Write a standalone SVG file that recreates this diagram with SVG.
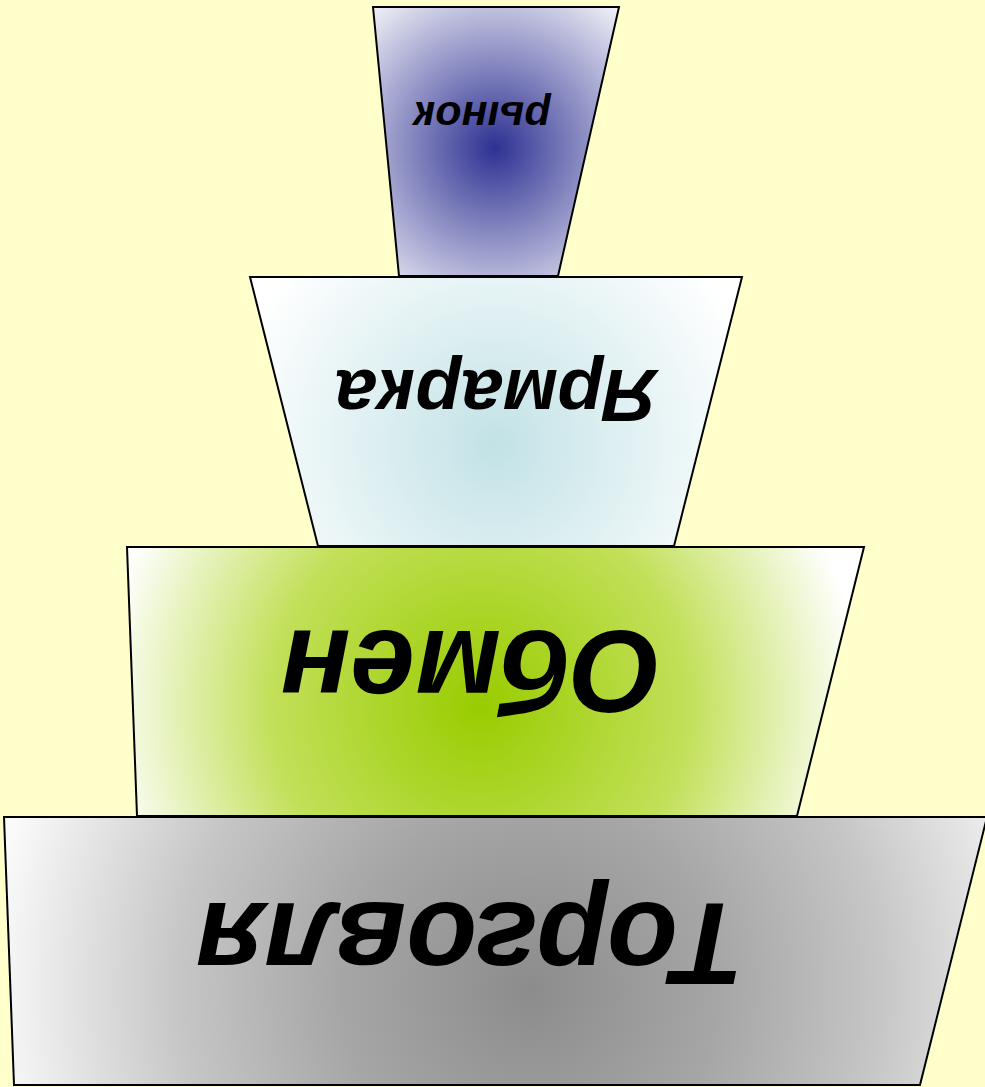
<svg xmlns="http://www.w3.org/2000/svg" width="985" height="1087" viewBox="0 0 985 1087">
<defs>
<radialGradient id="gBlue" gradientUnits="userSpaceOnUse" cx="495" cy="148" r="200"><stop offset="0" stop-color="#2e3192"/><stop offset="1" stop-color="#ffffff"/></radialGradient>
<radialGradient id="gCyan" gradientUnits="userSpaceOnUse" cx="495" cy="445" r="270"><stop offset="0" stop-color="#c2e2e6"/><stop offset="1" stop-color="#ffffff"/></radialGradient>
<radialGradient id="gGreen" gradientUnits="userSpaceOnUse" cx="480" cy="705" r="380"><stop offset="0" stop-color="#99cc00"/><stop offset="0.55" stop-color="#c2e05a"/><stop offset="1" stop-color="#ffffff"/></radialGradient>
<radialGradient id="gGray" gradientUnits="userSpaceOnUse" cx="530" cy="990" r="540"><stop offset="0" stop-color="#8c8c8c"/><stop offset="0.35" stop-color="#a6a6a6"/><stop offset="0.65" stop-color="#c6c6c6"/><stop offset="1" stop-color="#fafafa"/></radialGradient>
<style>
.tier{stroke:#000;stroke-width:2;stroke-linejoin:miter}
.lbl{font-family:"Liberation Sans",Arial,sans-serif;font-weight:bold;font-style:italic;fill:#000;text-anchor:middle}
</style>
</defs>
<rect x="0" y="0" width="985" height="1087" fill="#ffffcc"/>
<g id="tier-torgovlya">
<polygon class="tier" fill="url(#gGray)" points="4,817 987,817 920,1085 14,1085"/>
<text class="lbl" x="0" y="0" font-size="116" transform="translate(470 903) rotate(180)">Торговля</text>
</g>
<g id="tier-obmen">
<polygon class="tier" fill="url(#gGreen)" points="127,547 864,547 797,816 137,816"/>
<text class="lbl" x="0" y="0" font-size="116" transform="translate(471 631) rotate(180)">Обмен</text>
</g>
<g id="tier-yarmarka">
<polygon class="tier" fill="url(#gCyan)" points="250,277 742,277 674,546 318,546"/>
<text class="lbl" x="0" y="0" font-size="75" transform="translate(496 370) rotate(180)">Ярмарка</text>
</g>
<g id="tier-rynok">
<polygon class="tier" fill="url(#gBlue)" points="373,7 619,7 558,276 399,276"/>
<text class="lbl" x="0" y="0" font-size="43" transform="translate(482 102) rotate(180)">рынок</text>
</g>
<g id="connectors"/>
</svg>
